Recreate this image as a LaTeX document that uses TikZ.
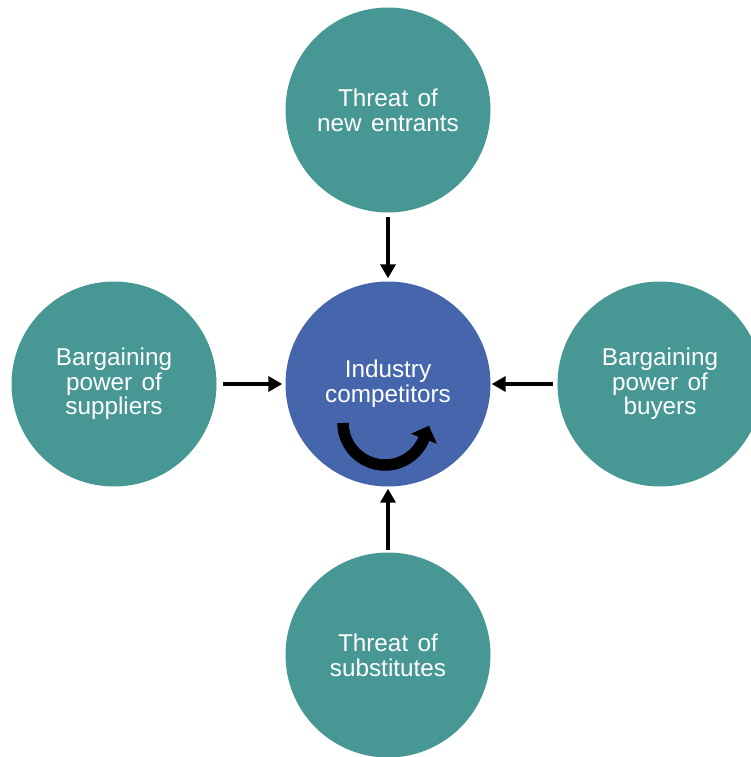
\documentclass[tikz,border=0pt]{standalone}
\usepackage{fontspec}
\setmainfont[WordSpace={1.4,1,1}]{Liberation Sans}
\usetikzlibrary{arrows.meta}
\definecolor{tealc}{HTML}{479795}
\definecolor{bluec}{HTML}{4565AD}
\begin{document}
\begin{tikzpicture}[x=1pt,y=-1pt,
  force/.style={circle,fill=tealc,draw=none,inner sep=0pt,minimum size=205pt,
    text=white,align=center,font=\fontsize{24.3}{24.7}\selectfont},
  core/.style={force,fill=bluec},
  push/.style={line width=4.8pt,-{Triangle[width=15pt,length=14pt]}}]
\useasboundingbox (0,0) rectangle (751,757);
\node[core]  (ind) at (388,384) {Industry\\competitors};
\node[force] (new) at (388,110) {Threat of\\new entrants};
\node[force] (sup) at (114,384) {Bargaining\\power of\\suppliers};
\node[force] (buy) at (660,384) {Bargaining\\power of\\buyers};
\node[force] (sub) at (388,655) {Threat of\\substitutes};
\draw[push,shorten <=4pt,shorten >=3pt] (new) -- (ind);
\draw[push,shorten <=6pt,shorten >=3pt] (sup) -- (ind);
\draw[push,shorten <=4pt,shorten >=1pt] (buy) -- (ind);
\draw[push,shorten <=2pt,shorten >=2pt] (sub) -- (ind);
\draw[line width=11.5pt,-{Triangle[width=27pt,length=14pt]}]
  plot[domain=180:22,samples=50] ({385+42*cos(\x)},{423+42*sin(\x)}) -- ++(5,-13);
\end{tikzpicture}
\end{document}
